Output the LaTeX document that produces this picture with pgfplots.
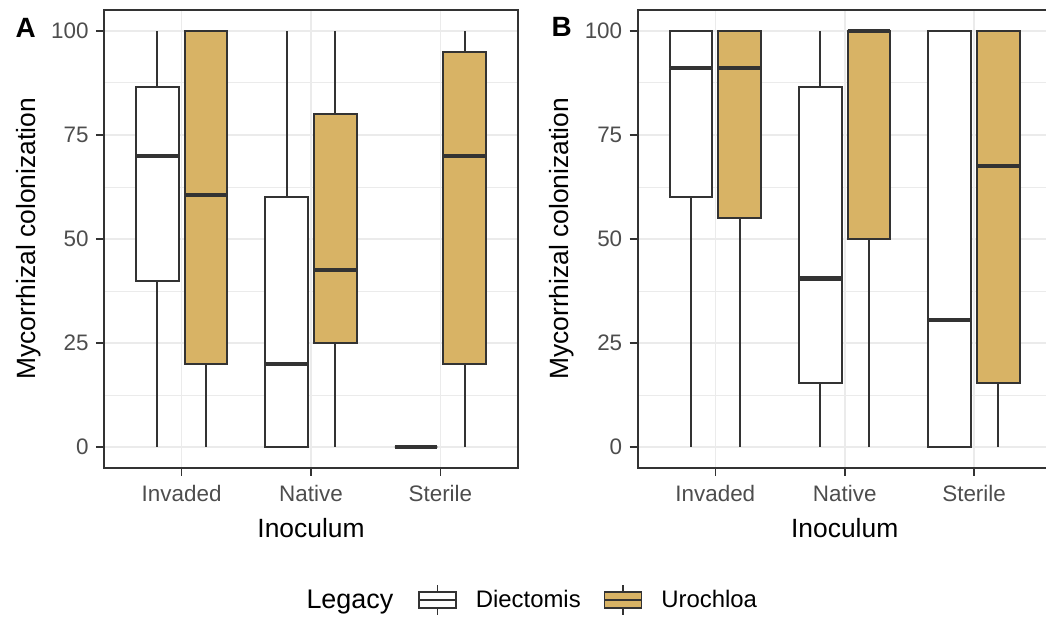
\documentclass[border=0pt]{standalone}
\usepackage{pgfplots}
\pgfplotsset{compat=1.18}
\usepgfplotslibrary{statistics}
\usepackage{fontspec}
\setmainfont{Liberation Sans}
\definecolor{tanc}{HTML}{D8B365}
\definecolor{gtwenty}{HTML}{333333}
\definecolor{gthirty}{HTML}{4D4D4D}
\definecolor{gridc}{HTML}{EBEBEB}
\pgfplotsset{
 panel/.style={
  scale only axis, width=414bp, height=458bp,
  xmin=0.4, xmax=3.6, ymin=-5, ymax=105,
  xtick={1,2,3}, xticklabels={Invaded,Native,Sterile},
  ytick={0,25,50,75,100},
  minor ytick={12.5,37.5,62.5,87.5},
  grid=both,
  major grid style={draw=gridc, line width=1.6bp},
  minor grid style={draw=gridc, line width=0.8bp},
  axis line style={draw=gtwenty, line width=2bp},
  tick style={draw=gtwenty, line width=1.6bp},
  tick align=outside, major tick length=8bp, minor tick length=0pt,
  tick pos=left,
  /pgf/number format/assume math mode=true,
  ticklabel style={font=\fontsize{22.5}{22.5}\selectfont, text=gthirty},
  xticklabel style={yshift=-6bp},
  yticklabel style={xshift=-4bp},
  xlabel=Inoculum, ylabel=Mycorrhizal colonization,
  label style={font=\fontsize{26.5}{26.5}\selectfont},
  xlabel style={at={(axis description cs:0.5,-0.1507)}, anchor=base},
  ylabel style={at={(axis description cs:-0.166,0.5)}, anchor=base},
  boxplot/draw direction=y,
  boxplot/box extend=0.33,
  boxplot/whisker extend=0,
  boxplot/every median/.style={line width=4.2bp},
 },
 dbox/.style={draw=gtwenty, line width=2bp, solid, fill=white},
 ubox/.style={draw=gtwenty, line width=2bp, solid, fill=tanc},
}
\begin{document}
\begin{tikzpicture}
\useasboundingbox (0,0) rectangle (1046bp,622bp);
\clip (0,0) rectangle (1046bp,622bp);
\begin{axis}[panel, at={(104bp,154bp)}, anchor=south west,
  legend style={at={(axis description cs:0.7585,-0.288)}, anchor=west, draw=none, fill=none, inner sep=0pt,
    legend columns=2, font=\fontsize{24}{24}\selectfont,
    /tikz/every odd column/.append style={column sep=19bp},
    /tikz/every even column/.append style={column sep=23bp},
    nodes={inner sep=0pt}}]
\addplot[dbox, forget plot, boxplot prepared={draw position=0.8125, lower whisker=0, lower quartile=40, median=70, upper quartile=86.5, upper whisker=100}] coordinates {};
\addplot[ubox, forget plot, boxplot prepared={draw position=1.1875, lower whisker=0, lower quartile=20, median=60.5, upper quartile=100, upper whisker=100}] coordinates {};
\addplot[dbox, forget plot, boxplot prepared={draw position=1.8125, lower whisker=0, lower quartile=0, median=20, upper quartile=60, upper whisker=100}] coordinates {};
\addplot[ubox, forget plot, boxplot prepared={draw position=2.1875, lower whisker=0, lower quartile=25, median=42.5, upper quartile=80, upper whisker=100}] coordinates {};
\addplot[dbox, forget plot, boxplot prepared={draw position=2.8125, lower whisker=0, lower quartile=0, median=0, upper quartile=0, upper whisker=0}] coordinates {};
\addplot[ubox, forget plot, boxplot prepared={draw position=3.1875, lower whisker=0, lower quartile=20, median=70, upper quartile=95, upper whisker=100}] coordinates {};
\addlegendimage{legend image code/.code={
  \draw[draw=gtwenty,line width=1.6bp] (18.5bp,8bp)--(18.5bp,15bp) (18.5bp,-8bp)--(18.5bp,-15bp);
  \draw[draw=gtwenty,fill=white,line width=1.6bp] (0bp,-8bp) rectangle (37bp,8bp);
  \draw[draw=gtwenty,line width=1.6bp] (0bp,0bp)--(37bp,0bp);}}
\addlegendentry{Diectomis}
\addlegendimage{legend image code/.code={
  \draw[draw=gtwenty,line width=1.6bp] (18.5bp,8bp)--(18.5bp,15bp) (18.5bp,-8bp)--(18.5bp,-15bp);
  \draw[draw=gtwenty,fill=tanc,line width=1.6bp] (0bp,-8bp) rectangle (37bp,8bp);
  \draw[draw=gtwenty,line width=1.6bp] (0bp,0bp)--(37bp,0bp);}}
\addlegendentry{Urochloa}
\end{axis}
\begin{axis}[panel, at={(637.7bp,154bp)}, anchor=south west]
\addplot[dbox, boxplot prepared={draw position=0.8125, lower whisker=0, lower quartile=60, median=91, upper quartile=100, upper whisker=100}] coordinates {};
\addplot[ubox, boxplot prepared={draw position=1.1875, lower whisker=0, lower quartile=55, median=91, upper quartile=100, upper whisker=100}] coordinates {};
\addplot[dbox, boxplot prepared={draw position=1.8125, lower whisker=0, lower quartile=15.5, median=40.5, upper quartile=86.5, upper whisker=100}] coordinates {};
\addplot[ubox, boxplot prepared={draw position=2.1875, lower whisker=0, lower quartile=50, median=100, upper quartile=100, upper whisker=100}] coordinates {};
\addplot[dbox, boxplot prepared={draw position=2.8125, lower whisker=0, lower quartile=0, median=30.5, upper quartile=100, upper whisker=100}] coordinates {};
\addplot[ubox, boxplot prepared={draw position=3.1875, lower whisker=0, lower quartile=15.5, median=67.5, upper quartile=100, upper whisker=100}] coordinates {};
\end{axis}
\node[anchor=base west, font=\bfseries\fontsize{28}{28}\selectfont] at (12bp,584bp) {A};
\node[anchor=base west, font=\bfseries\fontsize{28}{28}\selectfont] at (548bp,585bp) {B};
\node[anchor=base west, font=\fontsize{27}{27}\selectfont] at (303bp,14bp) {Legacy};
\end{tikzpicture}
\end{document}
